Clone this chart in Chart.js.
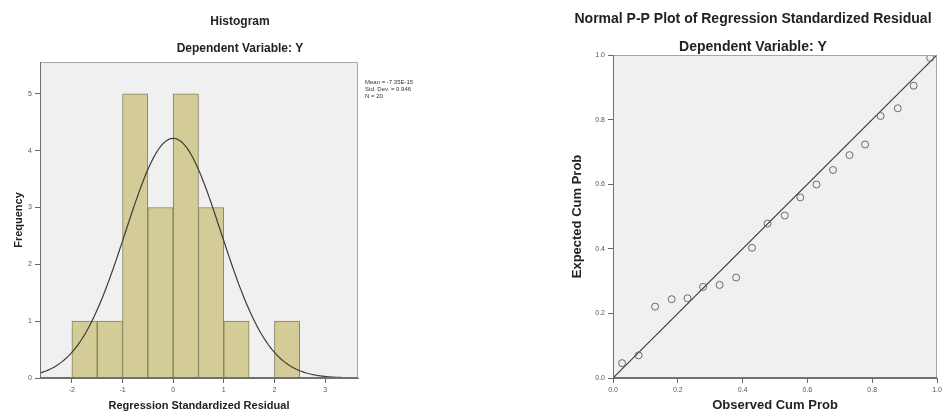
<!DOCTYPE html>
<html><head><meta charset="utf-8">
<script src="https://cdn.jsdelivr.net/npm/chart.js@4.4.1/dist/chart.umd.min.js"></script>
<style>
html,body{margin:0;padding:0;background:#fff;overflow:hidden;}
#wrap{position:relative;width:942px;height:416px;}
#c1{position:absolute;left:0;top:0;}
#c2{position:absolute;left:470px;top:0;}
</style></head><body>
<div id="wrap"><canvas id="c1" width="470" height="416"></canvas><canvas id="c2" width="472" height="416"></canvas></div>
<script>
// ---------- data ----------
const binCenters = [-1.75, -1.25, -0.75, -0.25, 0.25, 0.75, 1.25, 1.75, 2.25];
const frequencies = [1, 1, 5, 3, 5, 3, 1, 0, 1];
const histXTicks = [-2, -1, 0, 1, 2, 3];
const histYTicks = [0, 1, 2, 3, 4, 5];
const residMean = -7.35e-15;
const residSD = 0.946;
const residN = 20;
const binWidth = 0.5;
const statLabels = ['Mean = -7.35E-15', 'Std. Dev. = 0.946', 'N = 20'];

const observedCumProb = [0.028, 0.079, 0.130, 0.181, 0.230, 0.278, 0.329, 0.380, 0.429, 0.477,
                         0.530, 0.578, 0.628, 0.679, 0.730, 0.778, 0.826, 0.879, 0.928, 0.979];
const expectedCumProb = [0.046, 0.070, 0.221, 0.244, 0.247, 0.282, 0.288, 0.311, 0.403, 0.478,
                         0.503, 0.559, 0.599, 0.644, 0.690, 0.723, 0.811, 0.835, 0.905, 0.991];
const ppTicks = [0, 0.2, 0.4, 0.6, 0.8, 1.0];
const refLine = [0, 1];

// ---------- styling helpers ----------
const FONT = "'Liberation Sans', Arial, sans-serif";
const HX_MIN = -2.63, HX_MAX = 3.65, HY_MAX = 5.56;

// fitted normal curve from the stated mean / sd / N
const curve = [];
const peak = residN * binWidth / (residSD * Math.sqrt(2 * Math.PI));
for (let i = 0; i <= 160; i++) {
  const x = HX_MIN + (HX_MAX - HX_MIN) * i / 160;
  curve.push({x, y: peak * Math.exp(-((x - residMean) ** 2) / (2 * residSD * residSD))});
}

const plotBox = {
  id: 'plotBox',
  beforeDraw(chart) {
    const a = chart.chartArea, c = chart.ctx;
    c.save(); c.fillStyle = '#f0f0f0';
    c.fillRect(a.left, a.top, a.right - a.left, a.bottom - a.top);
    c.restore();
  },
  afterDatasetsDraw(chart) {
    const a = chart.chartArea, c = chart.ctx;
    c.save();
    c.lineWidth = 1;
    c.strokeStyle = '#a6a6a6';
    c.beginPath();
    c.moveTo(a.left, a.top + 0.5); c.lineTo(a.right - 0.5, a.top + 0.5); c.lineTo(a.right - 0.5, a.bottom);
    c.stroke();
    c.strokeStyle = '#707070';
    c.beginPath();
    c.moveTo(a.left + 0.5, a.top); c.lineTo(a.left + 0.5, a.bottom - 0.5); c.lineTo(a.right, a.bottom - 0.5);
    c.stroke();
    c.restore();
  }
};

function textPlugin(lines) {
  return {
    id: 'texts',
    afterDraw(chart) {
      const c = chart.ctx;
      c.save();
      lines.forEach(l => {
        c.font = l.font; c.fillStyle = l.color || '#222';
        c.textAlign = l.align || 'center'; c.textBaseline = 'middle';
        c.fillText(l.text, l.x, l.y);
      });
      c.restore();
    }
  };
}

const tickFont = {family: FONT, size: 7};

// ---------- Histogram ----------
new Chart(document.getElementById('c1'), {
  type: 'bar',
  data: {
    datasets: [
      {type: 'line', data: curve, borderColor: '#3c3c3c', borderWidth: 1.2, pointRadius: 0, tension: 0, order: 0},
      {type: 'bar', data: binCenters.map((x, i) => ({x, y: frequencies[i]})),
       backgroundColor: '#d3cc96', borderColor: '#85815e', borderWidth: 1,
       barPercentage: 1, categoryPercentage: 1, order: 1}
    ]
  },
  options: {
    responsive: false, animation: false, devicePixelRatio: 1,
    layout: {padding: {top: 62, right: 112, bottom: 0, left: 0}},
    plugins: {legend: {display: false}, tooltip: {enabled: false}},
    scales: {
      x: {
        type: 'linear', offset: false, min: HX_MIN, max: HX_MAX,
        afterBuildTicks: s => { s.ticks = histXTicks.map(v => ({value: v})); },
        afterFit: s => { s.height = 38; s.paddingLeft = 0; s.paddingRight = 0; },
        grid: {display: true, drawOnChartArea: false, offset: false, tickLength: 5, color: '#666'},
        border: {display: true, color: '#707070'},
        ticks: {font: tickFont, color: '#555', padding: 3, maxRotation: 0},
        title: {display: true, text: 'Regression Standardized Residual',
                font: {family: FONT, size: 11, weight: 'bold'}, color: '#222', padding: {top: 0, bottom: 3}}
      },
      y: {
        min: 0, max: HY_MAX,
        afterBuildTicks: s => { s.ticks = histYTicks.map(v => ({value: v})); },
        afterFit: s => { s.width = 40; s.paddingTop = 0; s.paddingBottom = 0; },
        grid: {display: true, drawOnChartArea: false, tickLength: 5, color: '#666'},
        border: {display: true, color: '#707070'},
        ticks: {font: tickFont, color: '#555', padding: 3},
        title: {display: true, text: 'Frequency',
                font: {family: FONT, size: 11, weight: 'bold'}, color: '#222', padding: {top: 12, bottom: 0}}
      }
    }
  },
  plugins: [plotBox, textPlugin([
    {text: 'Histogram', x: 240, y: 22, font: `bold 12px ${FONT}`},
    {text: 'Dependent Variable: Y', x: 240, y: 49, font: `bold 12px ${FONT}`},
    {text: statLabels[0], x: 365, y: 82, font: `6px ${FONT}`, align: 'left', color: '#333'},
    {text: statLabels[1], x: 365, y: 89, font: `6px ${FONT}`, align: 'left', color: '#333'},
    {text: statLabels[2], x: 365, y: 96, font: `6px ${FONT}`, align: 'left', color: '#333'}
  ])]
});

// ---------- P-P plot ----------
new Chart(document.getElementById('c2'), {
  type: 'scatter',
  data: {
    datasets: [
      {data: refLine.map(v => ({x: v, y: v})), showLine: true, borderColor: '#3c3c3c', borderWidth: 1.2,
       pointRadius: 0, order: 1},
      {data: observedCumProb.map((x, i) => ({x, y: expectedCumProb[i]})),
       pointStyle: 'circle', pointRadius: 3.5, backgroundColor: 'rgba(0,0,0,0)',
       borderColor: '#6a6a6a', borderWidth: 1, order: 0}
    ]
  },
  options: {
    responsive: false, animation: false, devicePixelRatio: 1,
    layout: {padding: {top: 55, right: 2, bottom: 0, left: 93}},
    plugins: {legend: {display: false}, tooltip: {enabled: false}},
    scales: {
      x: {
        type: 'linear', min: 0, max: 1,
        afterBuildTicks: s => { s.ticks = ppTicks.map(v => ({value: v})); },
        afterFit: s => { s.height = 38; s.paddingLeft = 0; s.paddingRight = 0; },
        grid: {display: true, drawOnChartArea: false, tickLength: 5, color: '#666'},
        border: {display: true, color: '#707070'},
        ticks: {font: tickFont, color: '#555', padding: 3, maxRotation: 0, callback: v => v.toFixed(1)},
        title: {display: true, text: 'Observed Cum Prob',
                font: {family: FONT, size: 13, weight: 'bold'}, color: '#222', padding: {top: 0, bottom: 3}}
      },
      y: {
        type: 'linear', min: 0, max: 1,
        afterBuildTicks: s => { s.ticks = ppTicks.map(v => ({value: v})); },
        afterFit: s => { s.width = 50; s.paddingTop = 0; s.paddingBottom = 0; },
        grid: {display: true, drawOnChartArea: false, tickLength: 5, color: '#666'},
        border: {display: true, color: '#707070'},
        ticks: {font: tickFont, color: '#555', padding: 3, callback: v => v.toFixed(1)},
        title: {display: true, text: 'Expected Cum Prob',
                font: {family: FONT, size: 13, weight: 'bold'}, color: '#222', padding: {top: 7, bottom: 0}}
      }
    }
  },
  plugins: [plotBox, textPlugin([
    {text: 'Normal P-P Plot of Regression Standardized Residual', x: 283, y: 19, font: `bold 14px ${FONT}`},
    {text: 'Dependent Variable: Y', x: 283, y: 47, font: `bold 14px ${FONT}`}
  ])]
});
</script>
</body></html>
